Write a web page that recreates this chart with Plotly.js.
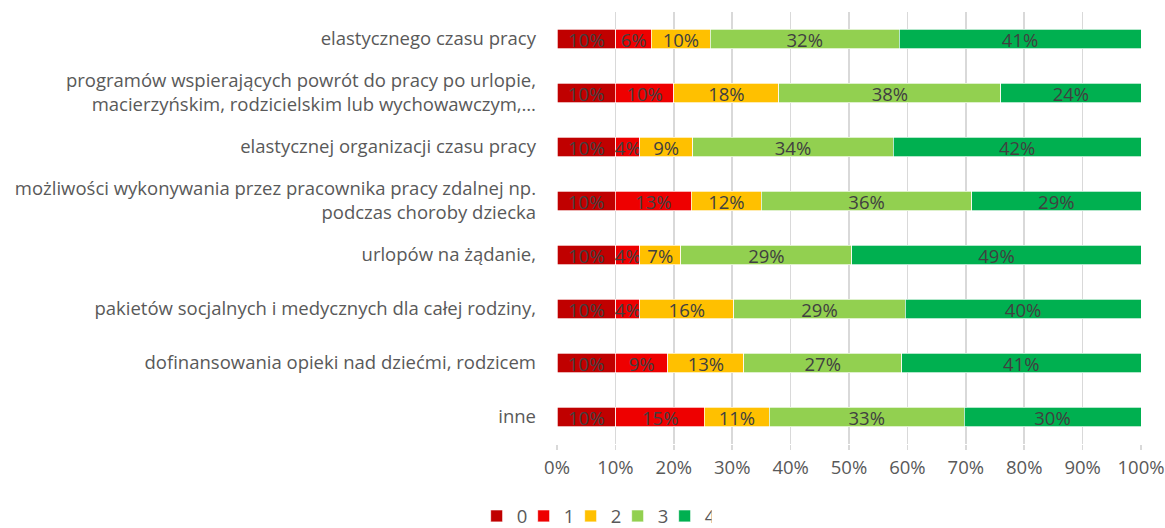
<!DOCTYPE html>
<html>
<head>
<meta charset="utf-8">
<script src="https://cdn.plot.ly/plotly-3.0.1.min.js"></script>
<style>html,body{margin:0;padding:0;background:#fff;}#chart{width:1165px;height:528px;}</style>
</head>
<body>
<div id="chart"></div>
<script>
const categories = [
  "elastycznego czasu pracy",
  "programów wspierających powrót do pracy po urlopie,<br>macierzyńskim, rodzicielskim lub wychowawczym,…",
  "elastycznej organizacji czasu pracy",
  "możliwości wykonywania przez pracownika pracy zdalnej np.<br>podczas choroby dziecka",
  "urlopów na żądanie,",
  "pakietów socjalnych i medycznych dla całej rodziny,",
  "dofinansowania opieki nad dziećmi, rodzicem",
  "inne"
];
const seriesNames = ["0", "1", "2", "3", "4"];
const values0 = [10, 10, 10, 10, 10, 10, 10, 10];
const values1 = [6, 10, 4, 13, 4, 4, 9, 15];
const values2 = [10, 18, 9, 12, 7, 16, 13, 11];
const values3 = [32, 38, 34, 36, 29, 29, 27, 33];
const values4 = [41, 24, 42, 29, 49, 40, 41, 30];
const xTickValues = [0, 10, 20, 30, 40, 50, 60, 70, 80, 90, 100];
const xTickLabels = ["0%", "10%", "20%", "30%", "40%", "50%", "60%", "70%", "80%", "90%", "100%"];

const colors = ["#C00000", "#EE0000", "#FFC000", "#92D050", "#00B050"];
const allValues = [values0, values1, values2, values3, values4];
const FONT = "'Open Sans', 'Noto Sans', sans-serif";

const traces = allValues.map((vals, i) => ({
  type: "bar",
  orientation: "h",
  name: seriesNames[i],
  y: categories,
  x: vals,
  text: vals.map(v => v + "%"),
  textposition: "inside",
  insidetextanchor: "middle",
  constraintext: "none",
  textfont: {family: FONT, size: 18.5, color: "#404040"},
  marker: {color: colors[i], line: {color: "#ffffff", width: 0.7}},
  hoverinfo: "skip"
}));

const layout = {
  width: 1165,
  height: 528,
  barmode: "stack",
  barnorm: "percent",
  bargap: 0.63,
  margin: {l: 557, r: 24, t: 12, b: 84},
  paper_bgcolor: "#ffffff",
  plot_bgcolor: "#ffffff",
  font: {family: FONT, size: 18.5, color: "#595959"},
  showlegend: true,
  legend: {
    orientation: "h",
    xref: "container",
    yref: "container",
    x: 0.51,
    xanchor: "center",
    y: 0.022,
    yanchor: "middle",
    font: {family: FONT, size: 18.5, color: "#595959"},
    itemwidth: 30,
    entrywidth: 2,
    entrywidthmode: "pixels",
    traceorder: "normal"
  },
  xaxis: {
    range: [0, 100],
    tickvals: xTickValues,
    ticktext: xTickLabels,
    showgrid: true,
    gridcolor: "#D9D9D9",
    gridwidth: 1.5,
    zeroline: false,
    showline: false,
    ticks: "outside",
    ticklen: 5,
    tickcolor: "#D9D9D9",
    tickwidth: 1.5,
    ticklabelstandoff: 2,
    tickfont: {family: FONT, size: 18.5, color: "#595959"},
    fixedrange: true
  },
  yaxis: {
    autorange: "reversed",
    showgrid: false,
    zeroline: false,
    showline: false,
    ticks: "",
    ticklabelstandoff: 20,
    tickfont: {family: FONT, size: 18.5, color: "#595959"},
    fixedrange: true
  }
};

Plotly.newPlot("chart", traces, layout, {displayModeBar: false, staticPlot: true});
</script>
</body>
</html>
